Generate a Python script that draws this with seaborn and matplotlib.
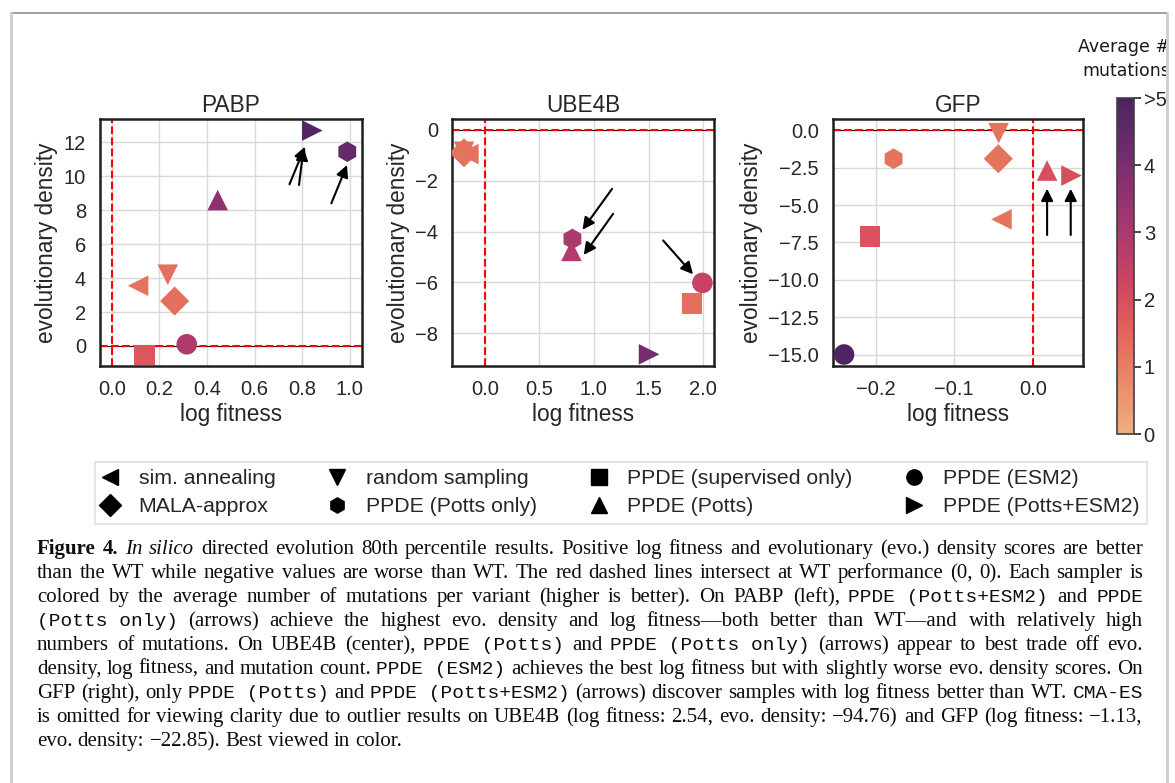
import numpy as np
import pandas as pd
import matplotlib
matplotlib.use("Agg")
import matplotlib.pyplot as plt
import matplotlib as mpl
import seaborn as sns
from matplotlib.lines import Line2D
from matplotlib.transforms import Bbox, TransformedBbox

# ---------------- data ----------------
samplers = ["sim. annealing", "random sampling", "PPDE (supervised only)", "PPDE (ESM2)",
            "MALA-approx", "PPDE (Potts only)", "PPDE (Potts)", "PPDE (Potts+ESM2)"]
sampler_markers = ["<", "v", "s", "o", "D", "h", "^", ">"]

pabp_fitness = [0.11, 0.235, 0.136, 0.315, 0.264, 0.99, 0.445, 0.843]
pabp_density = [3.55, 4.2, -0.53, 0.1, 2.65, 11.45, 8.6, 12.7]
pabp_mutations = [1.2, 1.3, 1.8, 2.9, 1.3, 4.4, 3.6, 4.8]

ube4b_fitness = [-0.15, -0.19, 1.90, 1.994, -0.19, 0.803, 0.794, 1.505]
ube4b_density = [-0.95, -0.86, -6.83, -6.02, -0.9, -4.29, -4.76, -8.83]
ube4b_mutations = [1.2, 1.2, 1.3, 2.4, 1.2, 3.0, 2.8, 4.1]

gfp_fitness = [-0.040, -0.0436, -0.207, -0.240, -0.044, -0.177, 0.018, 0.049]
gfp_density = [-5.95, -0.18, -7.09, -15.0, -1.89, -1.89, -2.68, -3.02]
gfp_mutations = [1.2, 1.2, 1.9, 4.9, 1.2, 1.2, 2.0, 2.0]

# arrows: (tail_x, tail_y, head_x, head_y)
pabp_arrows = [(0.747, 9.53, 0.812, 11.75), (0.787, 9.49, 0.806, 11.65), (0.923, 8.41, 0.989, 10.67)]
ube4b_arrows = [(1.166, -2.32, 0.895, -3.93), (1.176, -3.30, 0.907, -4.92), (1.634, -4.35, 1.908, -5.68)]
gfp_arrows = [(0.018, -7.0, 0.018, -3.9), (0.048, -7.0, 0.048, -3.9)]

panel_titles = ["PABP", "UBE4B", "GFP"]
pabp_xticks = [0.0, 0.2, 0.4, 0.6, 0.8, 1.0]
pabp_yticks = [0, 2, 4, 6, 8, 10, 12]
ube4b_xticks = [0.0, 0.5, 1.0, 1.5, 2.0]
ube4b_yticks = [-8, -6, -4, -2, 0]
gfp_xticks = [-0.2, -0.1, 0.0]
gfp_yticks = [0.0, -2.5, -5.0, -7.5, -10.0, -12.5, -15.0]
cbar_ticks = [0, 1, 2, 3, 4, 5]
cbar_ticklabels = ["0", "1", "2", "3", "4", ">5"]

caption_lines = [
    [("b", "Figure 4."), ("i", "In silico"), ("r", "directed evolution 80th percentile results. Positive log fitness and evolutionary (evo.) density scores are better")],
    [("r", "than the WT while negative values are worse than WT. The red dashed lines intersect at WT performance (0, 0). Each sampler is")],
    [("r", "colored by the average number of mutations per variant (higher is better). On PABP (left),"), ("m", "PPDE (Potts+ESM2)"), ("r", "and"), ("m", "PPDE")],
    [("m", "(Potts only)"), ("r", "(arrows) achieve the highest evo. density and log fitness\u2014both better than WT\u2014and with relatively high")],
    [("r", "numbers of mutations. On UBE4B (center),"), ("m", "PPDE (Potts)"), ("r", "and"), ("m", "PPDE (Potts only)"), ("r", "(arrows) appear to best trade off evo.")],
    [("r", "density, log fitness, and mutation count."), ("m", "PPDE (ESM2)"), ("r", "achieves the best log fitness but with slightly worse evo. density scores. On")],
    [("r", "GFP (right), only"), ("m", "PPDE (Potts)"), ("r", "and"), ("m", "PPDE (Potts+ESM2)"), ("r", "(arrows) discover samples with log fitness better than WT."), ("m", "CMA-ES")],
    [("r", "is omitted for viewing clarity due to outlier results on UBE4B (log fitness: 2.54, evo. density: \u221294.76) and GFP (log fitness: \u22121.13,")],
    [("r", "evo. density: \u221222.85). Best viewed in color.")],
]

# ---------------- style ----------------
sns.set_theme(style="whitegrid", rc={
    "axes.edgecolor": "0.15", "axes.linewidth": 1.6,
    "grid.color": "0.85", "grid.linewidth": 1.0,
})
plt.rcParams["font.family"] = ["Liberation Sans", "DejaVu Sans"]

W, H = 1175, 783
fig = plt.figure(figsize=(W / 100, H / 100), dpi=100)
fig.patch.set_facecolor("white")

def fx(px):
    return px / W

def fy(py):
    return 1 - py / H

cmap = sns.color_palette("flare", as_cmap=True)
norm = mpl.colors.Normalize(0, 5)
marker_map = dict(zip(samplers, sampler_markers))

panels = [
    (pabp_fitness, pabp_density, pabp_mutations, pabp_arrows, pabp_xticks, pabp_yticks,
     (-0.05, 1.052), (-1.18, 13.38), (100, 262)),
    (ube4b_fitness, ube4b_density, ube4b_mutations, ube4b_arrows, ube4b_xticks, ube4b_yticks,
     (-0.30, 2.10), (-9.29, 0.43), (452, 262)),
    (gfp_fitness, gfp_density, gfp_mutations, gfp_arrows, gfp_xticks, gfp_yticks,
     (-0.254, 0.0636), (-15.77, 0.77), (833, 250)),
]

top_px, bot_px = 119, 366
for title, (fit, dens, muts, arrows, xt, yt, xl, yl, (left, width)) in zip(panel_titles, panels):
    ax = fig.add_axes([fx(left), fy(bot_px), width / W, (bot_px - top_px) / H])
    df = pd.DataFrame({"log fitness": fit, "evolutionary density": dens,
                       "mutations": muts, "sampler": samplers})
    ax.axhline(0, color="black", lw=0.8, zorder=1.5)
    ax.axhline(0, color="red", ls="--", lw=1.5, zorder=1.6)
    ax.axvline(0, color="red", ls="--", lw=1.5, zorder=1.6)
    sns.scatterplot(data=df, x="log fitness", y="evolutionary density", hue="mutations",
                    hue_norm=(0, 5), palette=cmap, style="sampler", markers=marker_map,
                    style_order=samplers, s=220, linewidth=0, legend=False, ax=ax, zorder=3)
    for tx, ty, hx, hy in arrows:
        ax.annotate("", xy=(hx, hy), xytext=(tx, ty),
                    arrowprops=dict(arrowstyle="-|>", color="black", lw=1.5,
                                    mutation_scale=18, shrinkA=0, shrinkB=0), zorder=5)
    ax.set_xlim(*xl)
    ax.set_ylim(*yl)
    ax.set_xticks(xt)
    ax.set_yticks(yt)
    ax.tick_params(labelsize=14.5, colors="0.15", pad=4)
    ax.set_xlabel("log fitness", fontsize=16.3, color="0.15", labelpad=3)
    ax.set_ylabel("evolutionary density", fontsize=16.3, color="0.15", labelpad=4)
    ax.set_title(title, fontsize=16.3, color="0.15", pad=5)
    for sp in ax.spines.values():
        sp.set_color("0.12")
        sp.set_linewidth(1.8)

# colorbar
cax = fig.add_axes([fx(1117), fy(434), 17 / W, (434 - 98) / H])
sm = mpl.cm.ScalarMappable(norm=norm, cmap=cmap)
cb = fig.colorbar(sm, cax=cax, ticks=cbar_ticks)
cb.ax.set_yticklabels(cbar_ticklabels)
cb.ax.tick_params(labelsize=14.5, colors="0.15", length=5, width=1.2, right=True, pad=2)
cb.outline.set_edgecolor("0.25")
cb.outline.set_linewidth(1.2)
t = fig.text(fx(1170), fy(59), "Average #\nmutations", ha="right", va="center",
             multialignment="right", fontsize=12.5, family="DejaVu Sans", color="0.1",
             linespacing=1.4)
t.set_clip_box(TransformedBbox(Bbox([[0, 0], [1166 / W, 1]]), fig.transFigure))
t.set_clip_on(True)

# legend
handles = [Line2D([], [], marker=m, color="black", linestyle="None", markersize=11)
           for m in sampler_markers]
order = [0, 4, 1, 5, 2, 6, 3, 7]
leg = fig.legend([handles[i] for i in order], [samplers[i] for i in order], ncol=4,
                 loc="upper left", bbox_to_anchor=(fx(95), fy(532), 1052 / W, 70 / H),
                 mode="expand", fontsize=15.3, frameon=True, fancybox=False,
                 edgecolor="0.85", borderpad=0.35, labelspacing=0.42, handlelength=0.7,
                 handletextpad=1.0, borderaxespad=0)
leg.get_frame().set_linewidth(1.2)
for txt in leg.get_texts():
    txt.set_color("0.15")

# page borders
fig.add_artist(Line2D([fx(11), fx(1167)], [fy(13), fy(13)], color="0.6", lw=1.3))
fig.add_artist(Line2D([fx(11), fx(11)], [fy(13), 0], color="0.8", lw=2))
fig.add_artist(Line2D([fx(1167), fx(1167)], [fy(13), 0], color="0.8", lw=2))

# caption (justified)
fonts = {
    "r": dict(family="Liberation Serif", size=15),
    "b": dict(family="Liberation Serif", size=15, weight="bold"),
    "i": dict(family="Liberation Serif", size=15, style="italic"),
    "m": dict(family="Liberation Mono", size=14),
}
renderer = fig.canvas.get_renderer()
x_left, x_right = 37, 1143
base0, step = 554, 24

def measure(s, st):
    tt = fig.text(0, 0, s, **fonts[st])
    w = tt.get_window_extent(renderer).width
    tt.remove()
    return w

space_w = measure("a a", "r") - measure("aa", "r")
for li, segs in enumerate(caption_lines):
    tokens = []
    for st, txt in segs:
        if st == "m":
            tokens.append((st, txt))
        else:
            tokens += [(st, w) for w in txt.split(" ") if w]
    widths = [measure(w, st) for st, w in tokens]
    if li < len(caption_lines) - 1 and len(tokens) > 1:
        gap = max((x_right - x_left - sum(widths)) / (len(tokens) - 1), 0.5 * space_w)
    else:
        gap = space_w
    x = x_left
    yb = base0 + li * step
    for (st, w), wd in zip(tokens, widths):
        fig.text(fx(x), fy(yb), w, ha="left", va="baseline", color="0.05", **fonts[st])
        x += wd + gap

fig.savefig("out.png", dpi=100)
